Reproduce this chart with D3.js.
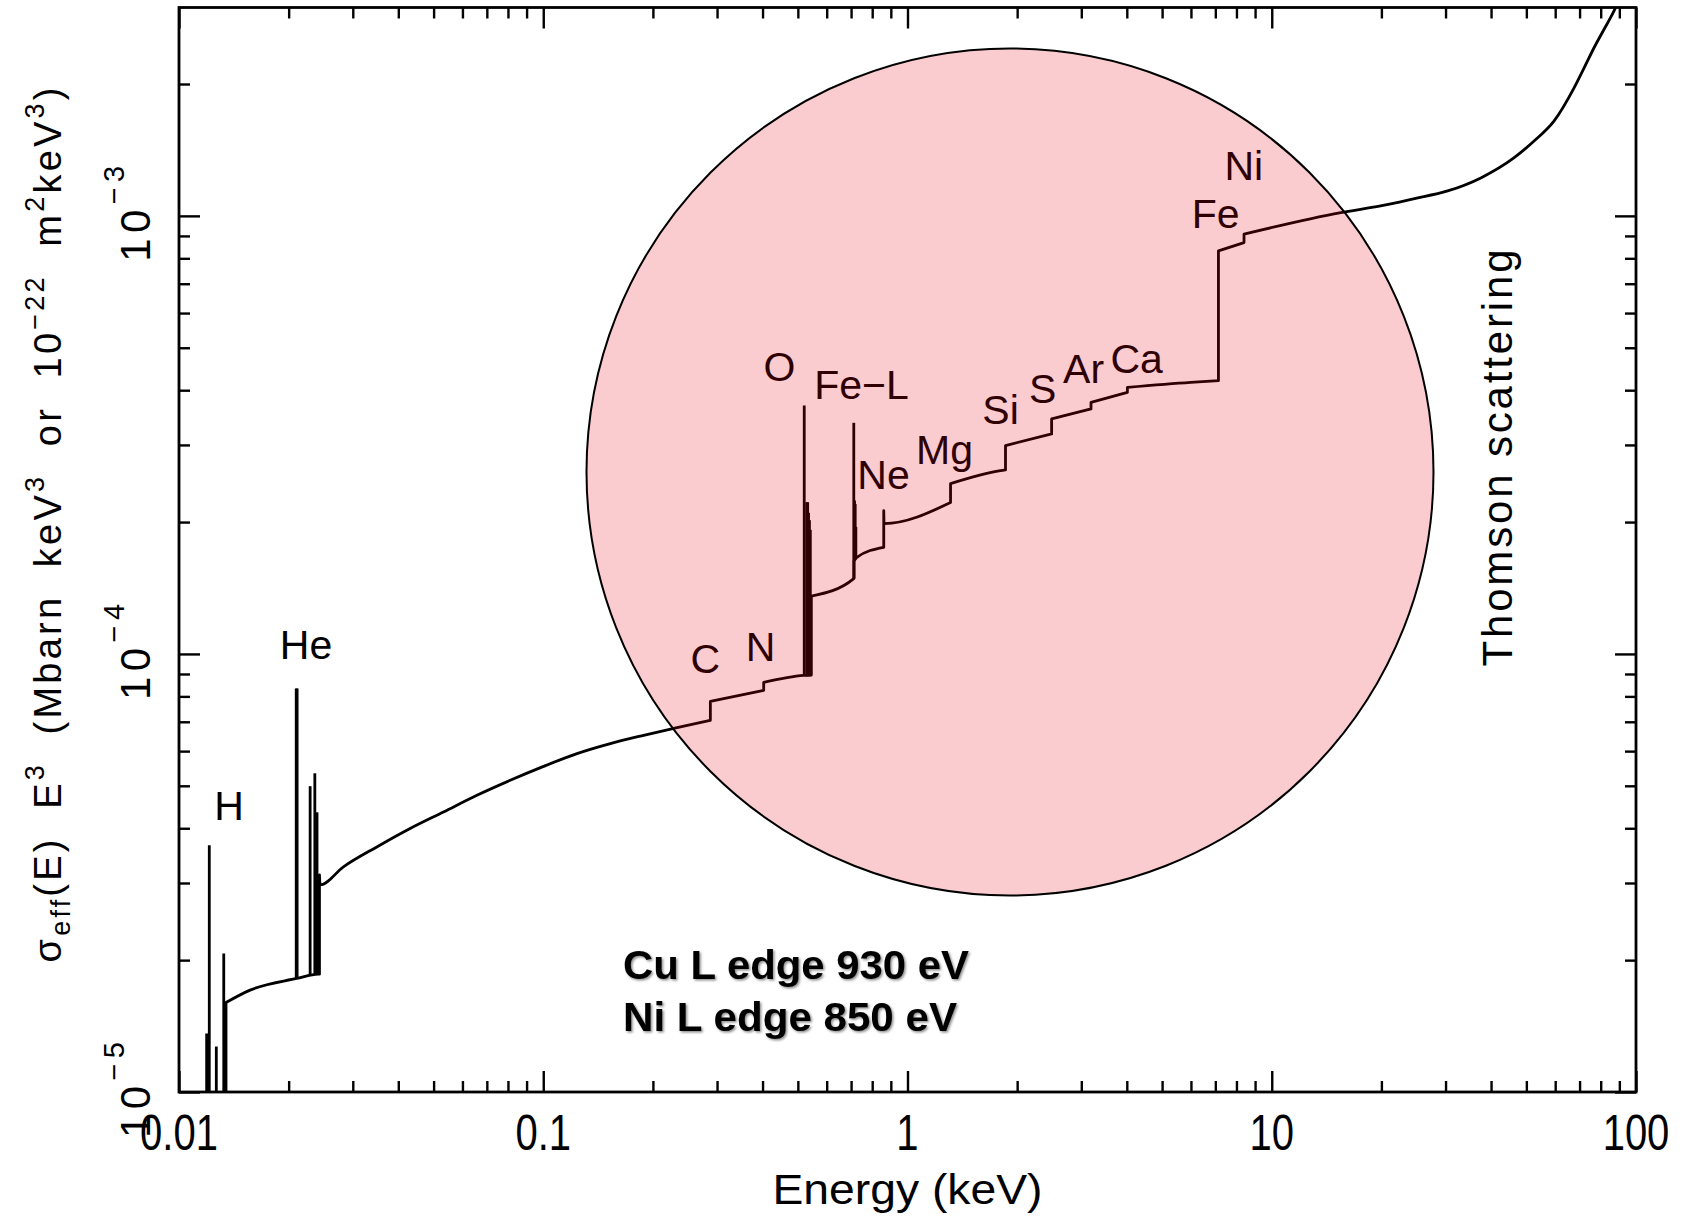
<!DOCTYPE html>
<html>
<head>
<meta charset="utf-8">
<script src="https://cdnjs.cloudflare.com/ajax/libs/d3/7.8.5/d3.min.js"></script>
<style>
  html, body { margin: 0; padding: 0; background: #ffffff; }
  svg { display: block; }
  .lbl { font-family: "Liberation Sans", Arial, sans-serif; fill: #000; }
  .bold { font-family: "Liberation Sans", Arial, sans-serif; font-weight: bold; fill: #000; }
</style>
</head>
<body>
<svg id="chart" width="1692" height="1216"></svg>
<script>
// Effective photoabsorption cross-section times E^3 (Mbarn keV^3), continuum with edges
const continuumE = [
  0.01346, 0.01346, 0.01567, 0.02104, 0.02414, 0.02430, 0.02430, 0.02440,
  0.02828, 0.03492, 0.04311, 0.05322, 0.06575, 0.08116, 0.1002, 0.1238,
  0.1528, 0.1886, 0.2330, 0.2876, 0.2876, 0.4029, 0.4029, 0.5189,
  0.5445, 0.5445, 0.7121, 0.7135, 0.7135, 0.7242, 0.8606, 0.8606,
  0.8625, 1.3127, 1.3127, 1.801, 1.858, 1.858, 2.487, 2.487,
  3.19, 3.19, 4.015, 4.015, 5.991, 7.139, 7.139, 8.392,
  8.392, 15.47, 19.9, 24.5, 30.4, 37.5, 46.2, 52.5,
  59.6, 67.6, 72.1, 76.7, 81.8, 87.1, 95.0
];
const continuumV = [
  5.0e-6, 1.60e-5, 1.708e-5, 1.816e-5, 1.858e-5, 1.858e-5, 3.13e-5, 2.97e-5,
  3.266e-5, 3.626e-5, 3.995e-5, 4.357e-5, 4.757e-5, 5.147e-5, 5.538e-5, 5.922e-5,
  6.242e-5, 6.52e-5, 6.789e-5, 7.053e-5, 7.795e-5, 8.257e-5, 8.61e-5, 8.93e-5,
  8.95e-5, 1.355e-4, 1.486e-4, 1.49e-4, 1.63e-4, 1.66e-4, 1.752e-4, 2.125e-4,
  1.984e-4, 2.216e-4, 2.448e-4, 2.62e-4, 2.63e-4, 2.99e-4, 3.178e-4, 3.439e-4,
  3.624e-4, 3.752e-4, 3.954e-4, 4.059e-4, 4.167e-4, 4.205e-4, 8.32e-4, 8.69e-4,
  9.085e-4, 1.0174e-3, 1.054e-3, 1.094e-3, 1.14e-3, 1.221e-3, 1.356e-3, 1.482e-3,
  1.647e-3, 1.96e-3, 2.18e-3, 2.42e-3, 2.67e-3, 2.94e-3, 3.5e-3
];

// Resonance absorption lines (energy, foot and tip of each spike)
const lineE    = [0.01191, 0.01211, 0.01266, 0.01327,
                  0.02098, 0.02110, 0.02291, 0.02360, 0.02393, 0.02415,
                  0.5206, 0.5290, 0.5320, 0.5350, 0.5380, 0.5410,
                  0.7121, 0.7155, 0.7185, 0.7215];
const lineBase = [5e-6, 5e-6, 5e-6, 5e-6,
                  1.815e-5, 1.815e-5, 1.84e-5, 1.85e-5, 1.855e-5, 1.86e-5,
                  8.9e-5, 8.9e-5, 8.9e-5, 8.9e-5, 8.9e-5, 8.9e-5,
                  1.486e-4, 1.63e-4, 1.64e-4, 1.65e-4];
const linePeak = [1.36e-5, 3.66e-5, 1.27e-5, 2.07e-5,
                  8.34e-5, 8.34e-5, 4.99e-5, 5.34e-5, 4.35e-5, 3.13e-5,
                  3.69e-4, 2.22e-4, 2.22e-4, 2.10e-4, 2.02e-4, 1.92e-4,
                  3.37e-4, 2.24e-4, 2.20e-4, 1.95e-4];

// Axis ticks
const xMajor = [0.01, 0.1, 1, 10, 100];
const xTickLabels = ["0.01", "0.1", "1", "10", "100"];
const yMajor = [1e-5, 1e-4, 1e-3];
const yTickExponents = ["\u22125", "\u22124", "\u22123"];

// Element edge annotations (energy in keV, value at label baseline)
const elementNames = ["H", "He", "C", "N", "O", "Fe\u2212L", "Ne", "Mg", "Si", "S", "Ar", "Ca", "Fe", "Ni"];
const elementE = [0.01372, 0.02233, 0.2787, 0.3947, 0.4451, 0.7475, 0.8593, 1.2637, 1.801, 2.349, 3.044, 4.257, 7.019, 8.378];
const elementV = [4.17e-5, 9.76e-5, 9.07e-5, 9.66e-5, 4.205e-4, 3.826e-4, 2.385e-4, 2.72e-4, 3.355e-4, 3.746e-4, 4.161e-4, 4.385e-4, 9.39e-4, 1.208e-3];

const noteLines = ["Cu L edge 930 eV", "Ni L edge 850 eV"];

// ---------------------------------------------------------------
const svg = d3.select("#chart");
const plot = { left: 179, right: 1636, top: 7.5, bottom: 1092 };

const x = d3.scaleLog().domain([0.01, 100]).range([plot.left, plot.right]);
const y = d3.scaleLog().domain([1e-5, 2.99e-3]).range([plot.bottom, plot.top]);

const defs = svg.append("defs");
defs.append("clipPath").attr("id", "plotClip")
  .append("rect")
  .attr("x", plot.left).attr("y", plot.top)
  .attr("width", plot.right - plot.left).attr("height", plot.bottom - plot.top);
defs.append("filter").attr("id", "softShadow")
  .attr("x", "-5%").attr("y", "-20%").attr("width", "110%").attr("height", "150%")
  .append("feDropShadow")
  .attr("dx", 1.5).attr("dy", 1.5).attr("stdDeviation", 1.2)
  .attr("flood-color", "#000").attr("flood-opacity", 0.45);

// minor tick values: 2..9 of each decade
function minors(lo, hi) {
  const out = [];
  for (let e = lo; e < hi; e++) for (let k = 2; k <= 9; k++) out.push(k * Math.pow(10, e));
  return out;
}
const xMinor = minors(-2, 2);
const yMinor = minors(-5, -3).concat([2e-3]);

const majorLen = 21, minorLen = 11;
function styleAxis(g) {
  g.select(".domain").remove();
  g.selectAll(".tick line").attr("stroke", "#000").attr("stroke-width", 2.4);
  g.selectAll(".tick text").remove();
}
const H = plot.bottom - plot.top, W = plot.right - plot.left;

[[d3.axisBottom, plot.bottom], [d3.axisTop, plot.top]].forEach(([ax, pos]) => {
  svg.append("g").attr("transform", `translate(0,${pos})`)
    .call(ax(x).tickValues(xMajor).tickSize(-majorLen)).call(styleAxis);
  svg.append("g").attr("transform", `translate(0,${pos})`)
    .call(ax(x).tickValues(xMinor).tickSize(-minorLen)).call(styleAxis);
});
[[d3.axisLeft, plot.left], [d3.axisRight, plot.right]].forEach(([ax, pos]) => {
  svg.append("g").attr("transform", `translate(${pos},0)`)
    .call(ax(y).tickValues(yMajor).tickSize(-majorLen)).call(styleAxis);
  svg.append("g").attr("transform", `translate(${pos},0)`)
    .call(ax(y).tickValues(yMinor).tickSize(-minorLen)).call(styleAxis);
});

// frame
svg.append("rect")
  .attr("x", plot.left).attr("y", plot.top).attr("width", W).attr("height", H)
  .attr("fill", "none").attr("stroke", "#000").attr("stroke-width", 2.8);

// x tick labels
svg.append("g").selectAll("text").data(xMajor).join("text")
  .attr("class", "lbl")
  .attr("text-anchor", "middle")
  .attr("transform", d => `translate(${x(d)},1150) scale(0.8,1)`)
  .style("font-size", "50px")
  .text((d, i) => xTickLabels[i]);

// y tick labels, rotated powers of ten
const yl = svg.append("g").selectAll("text").data(yMajor).join("text")
  .attr("class", "lbl")
  .attr("text-anchor", "middle")
  .attr("transform", d => `translate(150,${y(d) - 2}) rotate(-90)`)
  .attr("textLength", 96).attr("lengthAdjust", "spacing")
  .style("font-size", "42px");
yl.append("tspan").text("10");
yl.append("tspan").attr("dy", -26).style("font-size", "29px").text((d, i) => yTickExponents[i]);

// axis titles
svg.append("text").attr("class", "lbl")
  .attr("x", (plot.left + plot.right) / 2).attr("y", 1204)
  .attr("text-anchor", "middle")
  .attr("textLength", 270).attr("lengthAdjust", "spacingAndGlyphs")
  .style("font-size", "43px")
  .text("Energy (keV)");

const yTitle = svg.append("text").attr("class", "lbl")
  .attr("transform", "translate(61,525) rotate(-90)")
  .attr("text-anchor", "middle")
  .attr("textLength", 875).attr("lengthAdjust", "spacing")
  .style("font-size", "38px");
const sup = -17, sub = 9;
[
  ["\u03c3", 0, 38], ["eff", sub, 27], ["(E)  E", -sub, 38], ["3", sup, 27],
  ["  (Mbarn  keV", -sup, 38], ["3", sup, 27], ["  or  10", -sup, 38], ["\u221222", sup, 27],
  ["  m", -sup, 38], ["2", sup, 27], ["keV", -sup, 38], ["3", sup, 27], [")", -sup, 38]
].forEach(([t, dy, fs]) => {
  yTitle.append("tspan").attr("dy", dy).style("font-size", fs + "px")
    .style("white-space", "pre").text(t);
});

// spectrum: smooth runs joined by vertical edge jumps
const pts = continuumE.map((e, i) => [e, continuumV[i]]);
const smooth = d3.line().x(d => x(d[0])).y(d => y(d[1])).curve(d3.curveMonotoneX);
let pathD = "";
let run = [pts[0]];
function flush() {
  const s = smooth(run);
  pathD += pathD === "" ? s : "L" + s.slice(1);
}
for (let i = 1; i < pts.length; i++) {
  if (pts[i][0] > run[run.length - 1][0]) run.push(pts[i]);
  else { flush(); run = [pts[i]]; }
}
flush();

const curve = svg.append("g").attr("clip-path", "url(#plotClip)");
curve.append("path")
  .attr("d", pathD)
  .attr("fill", "none").attr("stroke", "#000").attr("stroke-width", 2.8)
  .attr("stroke-linejoin", "round");
curve.selectAll("line.spike").data(lineE).join("line")
  .attr("class", "spike")
  .attr("x1", d => x(d)).attr("x2", d => x(d))
  .attr("y1", (d, i) => y(lineBase[i])).attr("y2", (d, i) => y(linePeak[i]))
  .attr("stroke", "#000").attr("stroke-width", 2.8);

// element labels
svg.append("g").selectAll("text").data(elementNames).join("text")
  .attr("class", "lbl")
  .attr("text-anchor", "middle")
  .attr("x", (d, i) => x(elementE[i])).attr("y", (d, i) => y(elementV[i]))
  .style("font-size", "41px")
  .text(d => d);

svg.append("text").attr("class", "lbl")
  .attr("transform", "translate(1512,458) rotate(-90)")
  .attr("text-anchor", "middle")
  .attr("textLength", 417).attr("lengthAdjust", "spacing")
  .style("font-size", "42px")
  .text("Thomson scattering");

// highlight disc over the edge region
svg.append("circle")
  .attr("cx", 1010).attr("cy", 472).attr("r", 423.5)
  .attr("fill", "rgb(230,0,15)").attr("fill-opacity", 0.2)
  .attr("stroke", "#000").attr("stroke-width", 2);

// note
svg.append("g").attr("filter", "url(#softShadow)")
  .selectAll("text").data(noteLines).join("text")
  .attr("class", "bold")
  .attr("x", 623).attr("y", (d, i) => 979 + i * 52)
  .attr("textLength", (d, i) => i === 0 ? 346 : 334)
  .attr("lengthAdjust", "spacingAndGlyphs")
  .style("font-size", "40px")
  .text(d => d);
</script>
</body>
</html>
